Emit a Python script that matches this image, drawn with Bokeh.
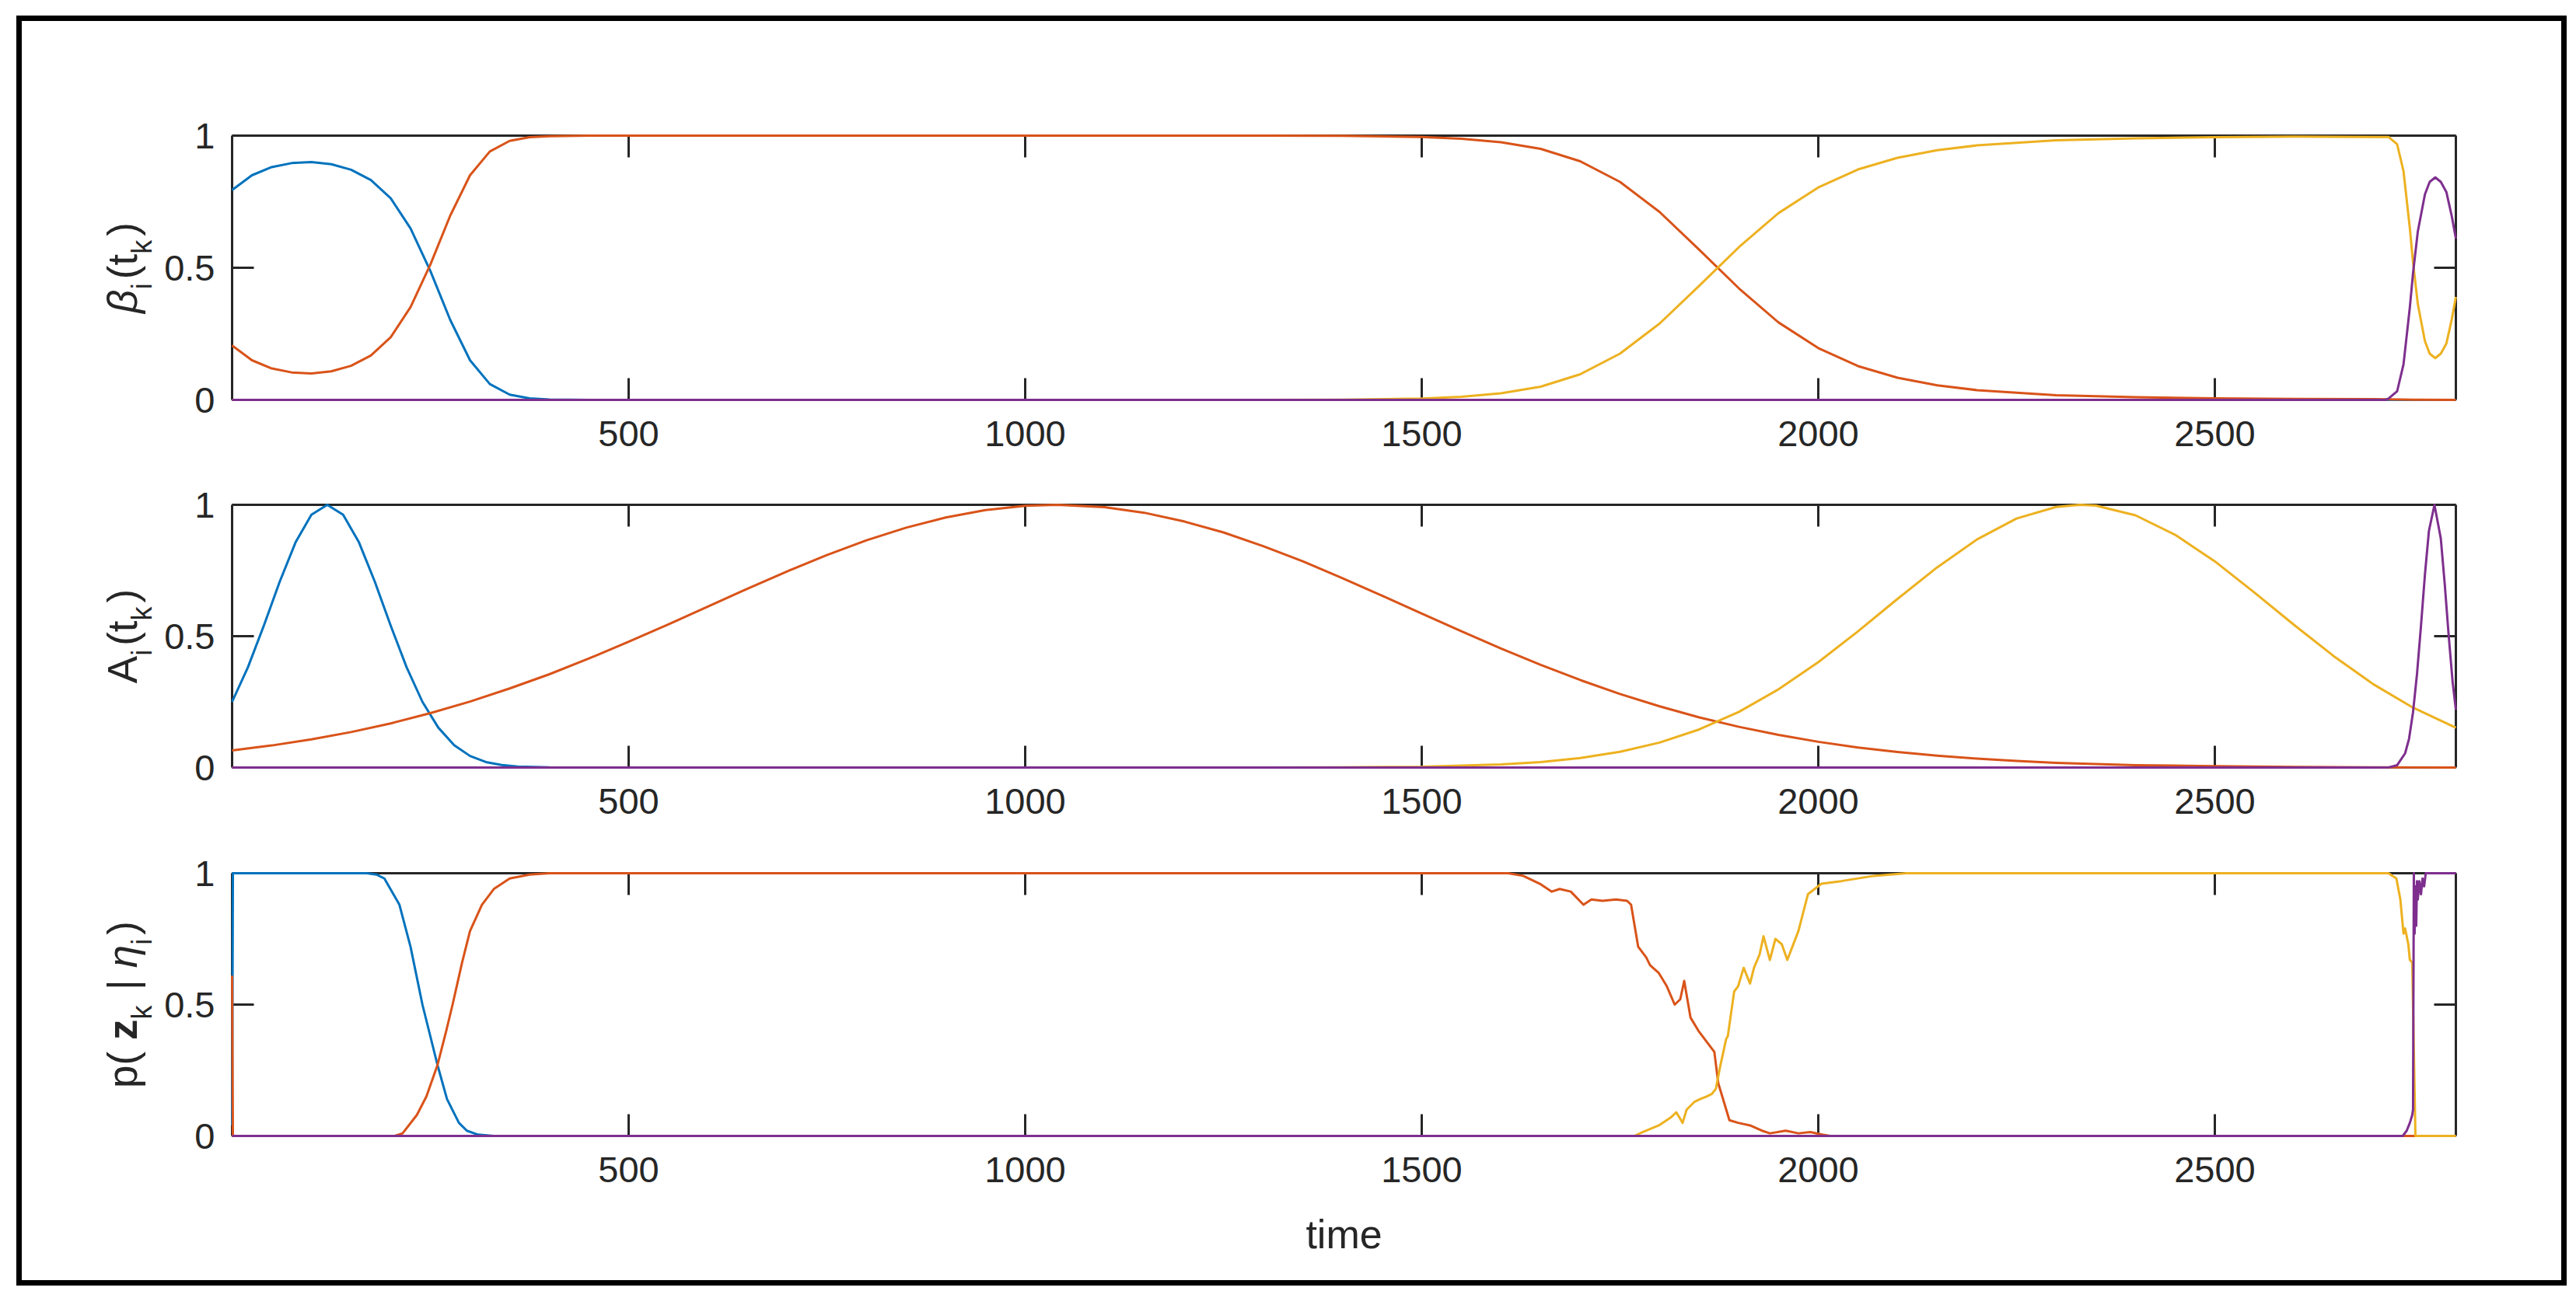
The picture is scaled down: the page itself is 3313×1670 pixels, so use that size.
from math import pi
from bokeh.plotting import figure
from bokeh.layouts import column, row
from bokeh.models import Range1d, FixedTicker, LinearAxis, Spacer
from bokeh.core.properties import value
from bokeh.embed import file_html
from bokeh.resources import INLINE

# ---------------- data ----------------
x_ticks = [500, 1000, 1500, 2000, 2500]
y_ticks = [0, 0.5, 1]
y_tick_labels = {0: "0", 0.5: "0.5", 1: "1"}
t_max = 2804

# panel 1 : beta_i(t_k)
beta_blue_t = [0, 25, 50, 75, 100, 125, 150, 175, 200, 225, 250, 275, 300, 325, 350, 375, 400, 450, 2804]
beta_blue = [0.794, 0.850, 0.881, 0.896, 0.900, 0.892, 0.871, 0.832, 0.763, 0.649, 0.488, 0.303, 0.150,
             0.060, 0.020, 0.006, 0.0015, 0.0, 0.0]
beta_orange_t = [0, 25, 50, 75, 100, 125, 150, 175, 200, 225, 250, 275, 300, 325, 350, 375, 400, 450, 1300,
                 1400, 1500, 1550, 1600, 1650, 1700, 1750, 1800, 1850, 1900, 1950, 2000, 2050, 2100, 2150,
                 2200, 2300, 2400, 2500, 2600, 2700, 2750, 2804]
beta_orange = [0.206, 0.150, 0.119, 0.104, 0.100, 0.108, 0.129, 0.168, 0.237, 0.351, 0.512, 0.697, 0.850,
               0.940, 0.980, 0.994, 0.998, 1.0, 1.0, 0.999, 0.995, 0.988, 0.975, 0.950, 0.903, 0.825, 0.711,
               0.568, 0.422, 0.293, 0.196, 0.128, 0.084, 0.055, 0.037, 0.018, 0.010, 0.006, 0.004, 0.003,
               0.001, 0.0]
beta_yellow_t = [0, 1300, 1400, 1500, 1550, 1600, 1650, 1700, 1750, 1800, 1850, 1900, 1950, 2000, 2050, 2100,
                 2150, 2200, 2300, 2400, 2500, 2600, 2719, 2730, 2738, 2746, 2750, 2756, 2765, 2771, 2778,
                 2785, 2792, 2799, 2804]
beta_yellow = [0, 0, 0.001, 0.005, 0.012, 0.025, 0.050, 0.097, 0.175, 0.289, 0.432, 0.578, 0.707, 0.804,
               0.872, 0.916, 0.945, 0.963, 0.982, 0.990, 0.994, 0.996, 0.995, 0.967, 0.865, 0.649, 0.52,
               0.363, 0.222, 0.175, 0.158, 0.175, 0.213, 0.307, 0.39]
beta_purple_t = [0, 2715, 2719, 2730, 2738, 2746, 2750, 2756, 2765, 2771, 2778, 2785, 2792, 2799, 2804]
beta_purple = [0, 0, 0.005, 0.033, 0.135, 0.351, 0.48, 0.637, 0.778, 0.825, 0.842, 0.825, 0.787, 0.693, 0.61]

# panel 2 : A_i(t_k)
a_blue_t = [0, 20, 40, 60, 80, 100, 120, 140, 160, 180, 200, 220, 240, 260, 280, 300, 320, 340, 360, 400,
            450, 2804]
a_blue = [0.25, 0.382, 0.540, 0.707, 0.857, 0.962, 1.0, 0.962, 0.857, 0.707, 0.540, 0.382, 0.25, 0.152,
          0.085, 0.044, 0.021, 0.0095, 0.004, 0.0005, 0, 0]
a_orange_t = [0, 50, 100, 150, 200, 250, 300, 350, 400, 450, 500, 550, 600, 650, 700, 750, 800, 850, 900,
              950, 1000, 1040, 1100, 1150, 1200, 1250, 1300, 1350, 1400, 1450, 1500, 1550, 1600, 1650, 1700,
              1750, 1800, 1850, 1900, 1950, 2000, 2050, 2100, 2150, 2200, 2250, 2300, 2350, 2400, 2500, 2600,
              2700, 2804]
a_orange = [0.065, 0.084, 0.107, 0.135, 0.168, 0.207, 0.251, 0.301, 0.355, 0.415, 0.479, 0.545, 0.613,
            0.681, 0.747, 0.809, 0.865, 0.913, 0.952, 0.980, 0.996, 1.0, 0.991, 0.970, 0.937, 0.895, 0.843,
            0.785, 0.721, 0.654, 0.586, 0.519, 0.453, 0.391, 0.333, 0.280, 0.233, 0.191, 0.155, 0.124,
            0.098, 0.076, 0.059, 0.045, 0.034, 0.025, 0.018, 0.013, 0.009, 0.005, 0.002, 0.001, 0.0]
a_yellow_t = [0, 1300, 1400, 1500, 1600, 1650, 1700, 1750, 1800, 1850, 1900, 1950, 2000, 2050, 2100, 2150,
              2200, 2250, 2300, 2330, 2350, 2400, 2450, 2500, 2550, 2600, 2650, 2700, 2750, 2800, 2804]
a_yellow = [0, 0, 0.001, 0.003, 0.012, 0.021, 0.036, 0.060, 0.095, 0.145, 0.212, 0.298, 0.401, 0.518,
            0.642, 0.762, 0.868, 0.948, 0.992, 1.0, 0.997, 0.960, 0.886, 0.785, 0.666, 0.543, 0.424, 0.317,
            0.228, 0.157, 0.152]
a_purple_t = [0, 2700, 2720, 2730, 2740, 2745, 2750, 2755, 2760, 2765, 2770, 2777, 2785, 2790, 2795, 2800, 2804]
a_purple = [0, 0, 0.001, 0.009, 0.054, 0.11, 0.211, 0.356, 0.539, 0.735, 0.9, 1.0, 0.872, 0.697, 0.50,
            0.323, 0.22]

# panel 3 : p(z_k | eta_i)
p_blue_t = [0, 1, 170, 182, 192, 211, 225, 240, 259, 271, 286, 296, 310, 330, 2804]
p_blue = [0.04, 1.0, 1.0, 0.995, 0.98, 0.88, 0.72, 0.5, 0.27, 0.14, 0.05, 0.02, 0.005, 0, 0]
p_orange_t = [0, 1, 205, 215, 233, 245, 259, 270, 278, 290, 300, 315, 330, 350, 375, 400, 1609, 1628, 1649,
              1664, 1674, 1688, 1704, 1714, 1728, 1745, 1759, 1764, 1773, 1783, 1788, 1799, 1809, 1819, 1826,
              1831, 1839, 1849, 1859, 1869, 1874, 1879, 1888, 1899, 1914, 1929, 1939, 1959, 1975, 1990,
              2005, 2015, 2804]
p_orange = [0.61, 0, 0, 0.01, 0.08, 0.15, 0.27, 0.4, 0.5, 0.66, 0.78, 0.88, 0.94, 0.98, 0.995, 1.0, 1.0,
            0.99, 0.96, 0.93, 0.94, 0.93, 0.88, 0.9, 0.895, 0.9, 0.895, 0.88, 0.72, 0.68, 0.65, 0.62, 0.57,
            0.5, 0.52, 0.59, 0.45, 0.40, 0.36, 0.32, 0.2, 0.15, 0.06, 0.05, 0.04, 0.02, 0.01, 0.02, 0.01,
            0.015, 0.005, 0, 0]
p_yellow_t = [0, 1768, 1779, 1799, 1814, 1821, 1829, 1834, 1844, 1851, 1859, 1866, 1871, 1876, 1884, 1886,
              1894, 1899, 1906, 1914, 1919, 1926, 1931, 1939, 1946, 1954, 1961, 1975, 1987, 2004, 2029,
              2070, 2111, 2719, 2729, 2734, 2738, 2740, 2744, 2746, 2749, 2753, 2804]
p_yellow = [0, 0, 0.015, 0.04, 0.07, 0.09, 0.05, 0.1, 0.13, 0.14, 0.15, 0.16, 0.18, 0.26, 0.37, 0.38, 0.55,
            0.57, 0.64, 0.58, 0.64, 0.69, 0.76, 0.67, 0.75, 0.73, 0.67, 0.78, 0.92, 0.96, 0.97, 0.99, 1.0,
            1.0, 0.98, 0.90, 0.77, 0.79, 0.73, 0.67, 0.66, 0, 0]
p_purple_t = [0, 2737, 2742, 2746, 2749, 2750, 2751, 2752, 2753, 2754, 2755, 2756, 2758, 2760, 2762, 2764,
              2766, 2804]
p_purple = [0, 0, 0.02, 0.05, 0.08, 0.1, 1.0, 0.77, 0.95, 0.8, 0.97, 0.9, 0.97, 0.92, 0.98, 0.95, 1.0, 1.0]

# y-axis labels as (text, kind) pieces: kind "n" normal, "s" subscript, "it" italic, "b" bold
NB = "\u00a0"   # non-breaking space (kept by SVG text)
ylabel_beta = [("\u03b2", "it"), ("i", "s"), ("(t", "n"), ("k", "s"), (")", "n")]
ylabel_a = [("A", "n"), ("i", "s"), ("(t", "n"), ("k", "s"), (")", "n")]
ylabel_p = [("p(" + NB, "n"), ("z", "b"), ("k", "s"), (NB + "|" + NB, "n"), ("\u03b7", "it"), ("i", "s"),
            (")", "n")]
x_label = "time"

# ---------------- styling / layout ----------------
COLORS = ["#0072BD", "#D95319", "#EDB120", "#7E2F8E"]
FONT = "Liberation Sans"
TXT = "#262626"
AX_W = 3
FRAME = 7                 # thickness of the outer black frame
OFF_X, OFF_Y = 21, 20     # white gap left of / above the frame
LBL_W = 175               # width of the strip that carries the y labels
FRAME_W = 2860
PANEL_L = 270 - LBL_W
PANEL_R = 136
# (frame height, top border, bottom border) of the three panels
PANELS = [(340, 147, 86), (338, 49, 88), (338, 48, 186)]
LBL_MAIN = 53             # y label font size (px)
LBL_SUB = 36              # subscript font size (px)
LBL_BASE = 129            # main baseline x inside the label strip
LBL_SUB_SHIFT = 25        # subscripts lowered by this many px
LBL_SUB_GAP = 5           # extra advance after a subscript

# approximate Arial advance widths (em) used to chain the label pieces
ADV = {"\u03b2": 0.58, "\u03b7": 0.56, "A": 0.667, "p": 0.556, "z": 0.5, "i": 0.222, "k": 0.5,
       "t": 0.278, "(": 0.333, ")": 0.333, " ": 0.278, NB: 0.278, "|": 0.26}


def style_axis(ax, ticks, labels=True, overrides=None):
    ax.ticker = FixedTicker(ticks=ticks)
    ax.axis_line_color = TXT
    ax.axis_line_width = AX_W
    ax.major_tick_line_color = TXT
    ax.major_tick_line_width = AX_W
    ax.major_tick_in = 28
    ax.major_tick_out = 0
    ax.minor_tick_line_color = None
    ax.major_label_text_font = FONT
    ax.major_label_text_font_size = "47px"
    ax.major_label_text_color = TXT
    if overrides is not None:
        ax.major_label_overrides = overrides
    if not labels:
        ax.major_label_overrides = {v: "" for v in ticks}
        ax.major_label_standoff = 0


def make_panel(series, dims, xlabel=None):
    frame_h, top, bottom = dims
    p = figure(frame_width=FRAME_W, frame_height=frame_h,
               x_range=Range1d(0, t_max), y_range=Range1d(0, 1),
               output_backend="svg", toolbar_location=None,
               min_border_left=PANEL_L, min_border_right=PANEL_R,
               min_border_top=top, min_border_bottom=bottom,
               background_fill_color="white", border_fill_color="white")
    p.outline_line_color = None
    p.grid.visible = False
    for (tx, vy), c in zip(series, COLORS):
        p.line(tx, vy, line_color=c, line_width=3, line_join="round", level="overlay")

    style_axis(p.xaxis[0], x_ticks)
    p.xaxis[0].major_label_standoff = 27
    style_axis(p.yaxis[0], y_ticks, overrides=y_tick_labels)
    p.yaxis[0].major_label_standoff = 22
    if xlabel:
        p.xaxis[0].axis_label = xlabel
        p.xaxis[0].axis_label_text_font = FONT
        p.xaxis[0].axis_label_text_font_size = "52px"
        p.xaxis[0].axis_label_text_font_style = "normal"
        p.xaxis[0].axis_label_text_color = TXT
        p.xaxis[0].axis_label_standoff = 35

    top_ax = LinearAxis()
    style_axis(top_ax, x_ticks, labels=False)
    p.add_layout(top_ax, "above")
    right_ax = LinearAxis()
    style_axis(right_ax, y_ticks, labels=False)
    p.add_layout(right_ax, "right")
    return p


def label_strip(labels):
    """Narrow strip left of the panels holding the rotated, sub-scripted y labels."""
    total_h = sum(sum(d) for d in PANELS)
    f = figure(width=LBL_W, height=total_h, x_range=Range1d(0, LBL_W), y_range=Range1d(total_h, 0),
               output_backend="svg", toolbar_location=None, title=None,
               x_axis_location=None, y_axis_location=None, min_border=0,
               background_fill_color="white", border_fill_color="white")
    f.outline_line_color = None
    f.grid.visible = False
    y_top = 0
    for pieces, (fh, top, bottom) in zip(labels, PANELS):
        centre = y_top + top + fh / 2.0
        y_top += fh + top + bottom
        widths = []
        for text, kind in pieces:
            size = LBL_SUB if kind == "s" else LBL_MAIN
            w = sum(ADV.get(ch, 0.5) for ch in text) * size
            if kind == "s":
                w += LBL_SUB_GAP
            widths.append(w)
        pos = centre + sum(widths) / 2.0          # reading bottom -> top
        for (text, kind), w in zip(pieces, widths):
            size = LBL_SUB if kind == "s" else LBL_MAIN
            style = {"it": "italic", "b": "bold"}.get(kind, "normal")
            xb = LBL_BASE + (LBL_SUB_SHIFT if kind == "s" else 0)
            f.text(x=[xb], y=[pos], text=[text], angle=pi / 2,
                   text_align="left", text_baseline="alphabetic",
                   text_font=value(FONT), text_font_size=value(f"{size}px"),
                   text_font_style=value(style), text_color=TXT)
            pos -= w
    return f


def black_bar(w, h):
    return Spacer(width=w, height=h, styles={"background-color": "black"})


p1 = make_panel([(beta_blue_t, beta_blue), (beta_orange_t, beta_orange),
                 (beta_yellow_t, beta_yellow), (beta_purple_t, beta_purple)], PANELS[0])
p2 = make_panel([(a_blue_t, a_blue), (a_orange_t, a_orange),
                 (a_yellow_t, a_yellow), (a_purple_t, a_purple)], PANELS[1])
p3 = make_panel([(p_blue_t, p_blue), (p_orange_t, p_orange),
                 (p_yellow_t, p_yellow), (p_purple_t, p_purple)], PANELS[2], xlabel=x_label)
strip = label_strip([ylabel_beta, ylabel_a, ylabel_p])

inner_h = sum(sum(d) for d in PANELS)
inner = row(strip, column(p1, p2, p3, spacing=0), spacing=0)
middle = column(black_bar(3266, FRAME), inner, black_bar(3266, FRAME), spacing=0)
box = row(black_bar(FRAME, inner_h + 2 * FRAME), middle, black_bar(FRAME, inner_h + 2 * FRAME), spacing=0)
layout = column(Spacer(width=10, height=OFF_Y), row(Spacer(width=OFF_X, height=10), box, spacing=0),
                spacing=0)

open("out.html", "w").write(file_html(layout, INLINE))
